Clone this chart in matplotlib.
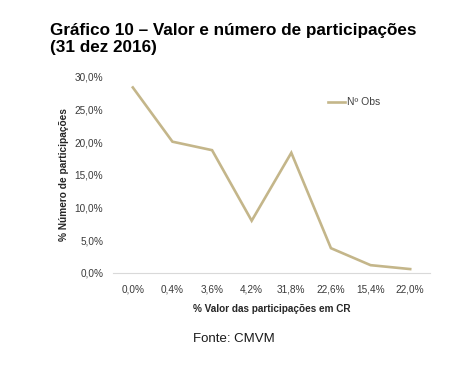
import matplotlib
matplotlib.use("Agg")
import matplotlib.pyplot as plt
from matplotlib.ticker import FuncFormatter

plt.rcParams['font.family'] = ['Liberation Sans', 'DejaVu Sans']

categories = ["0,0%", "0,4%", "3,6%", "4,2%", "31,8%", "22,6%", "15,4%", "22,0%"]
n_obs = [28.4, 20.1, 18.8, 8.0, 18.4, 3.8, 1.2, 0.6]
y_ticks = [0, 5, 10, 15, 20, 25, 30]

fig = plt.figure(figsize=(4.5, 3.66), dpi=100)
ax = fig.add_axes([113/450, 1-273/366, (430-113)/450, (273-77)/366])

x = list(range(len(categories)))
ax.plot(x, n_obs, color="#c4b68a", lw=1.9, label="Nº Obs", solid_joinstyle="miter")

ax.set_xlim(-0.5, len(categories) - 0.5)
ax.set_ylim(0, 30)
ax.set_yticks(y_ticks)
ax.yaxis.set_major_formatter(FuncFormatter(lambda v, p: f"{v:.1f}%".replace(".", ",")))
ax.set_xticks(x)
ax.set_xticklabels(categories)

for s in ["top", "right", "left"]:
    ax.spines[s].set_visible(False)
ax.spines["bottom"].set_color("#d9d9d9")
ax.spines["bottom"].set_linewidth(0.8)
ax.tick_params(axis="both", length=0, labelsize=7.2, colors="#3a3a3a")
ax.tick_params(axis="y", pad=7)
ax.tick_params(axis="x", pad=8)

ax.set_ylabel("% Número de participações", fontsize=7.3, fontweight="bold", color="#262626", labelpad=4)
ax.set_xlabel("% Valor das participações em CR", fontsize=7.2, fontweight="bold", color="#262626", labelpad=7)

leg = ax.legend(loc="upper left", bbox_to_anchor=((323-113)/317, 1-(92-77)/196), frameon=False,
                fontsize=7.5, handlelength=1.6, handletextpad=0.2, borderpad=0)
for t in leg.get_texts():
    t.set_color("#404040")

fig.text(50/450, 1-39/366, "Gráfico 10 – Valor e número de participações\n(31 dez 2016)",
         fontsize=12.3, fontweight="bold", ha="left", va="center", linespacing=1.2, color="black")
fig.text(234/450, 1-339/366, "Fonte: CMVM", fontsize=9.5, ha="center", va="center", color="#1a1a1a")

fig.savefig("out.png", dpi=100)
